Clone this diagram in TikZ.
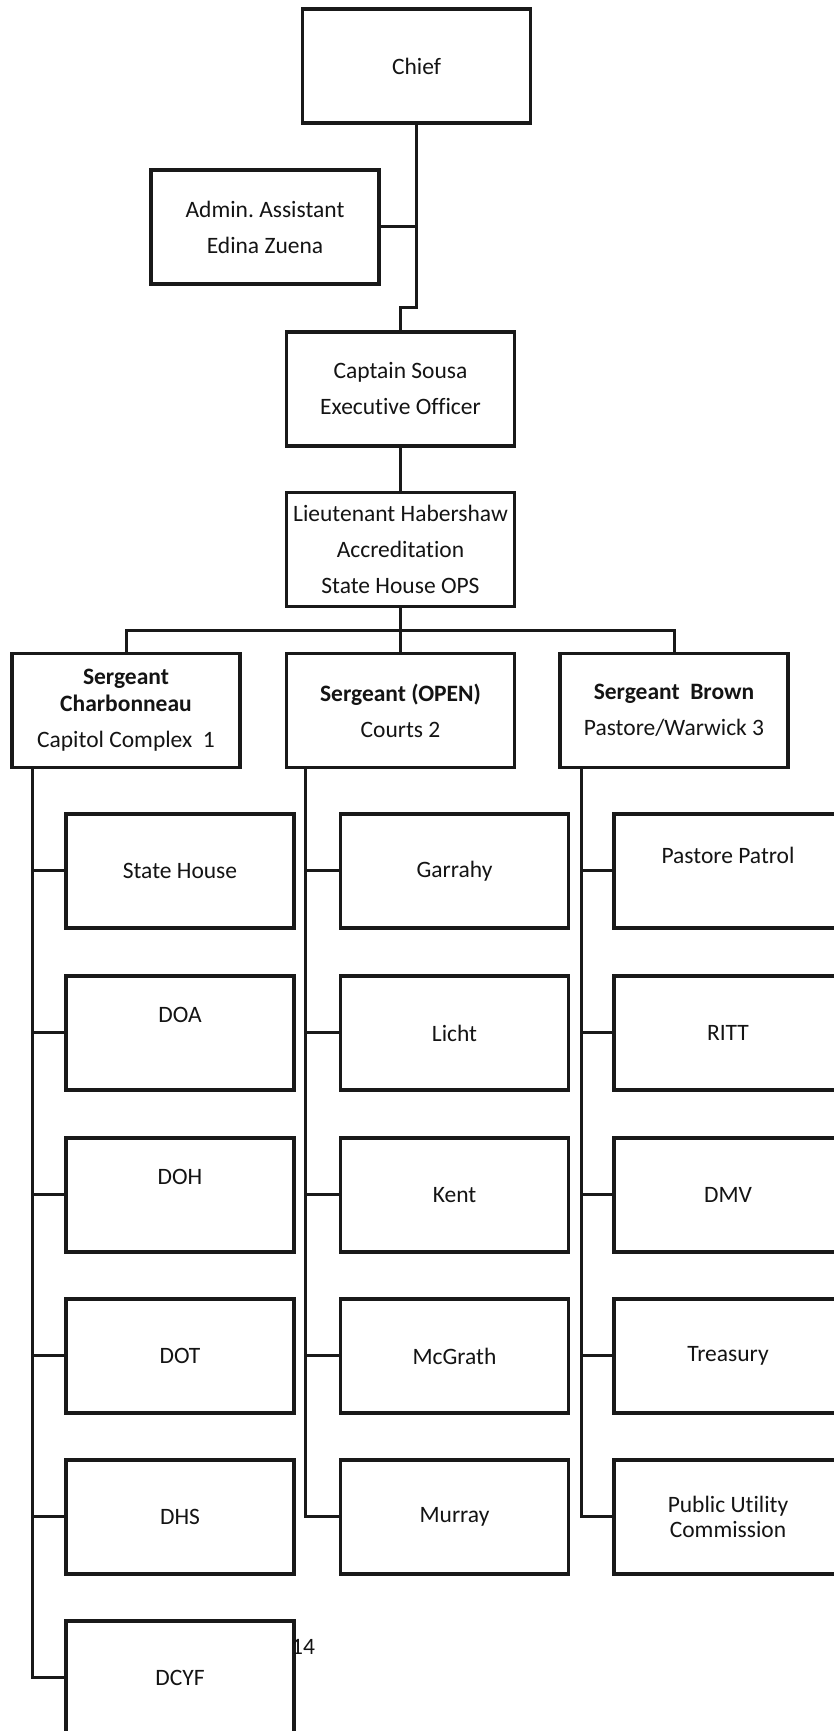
\documentclass[tikz,border=0pt]{standalone}
\usepackage{fontspec}
\setmainfont{Carlito}[Ligatures=NoCommon]
\frenchspacing
\begin{document}
\begin{tikzpicture}[x=1pt,y=1pt]
\definecolor{lineColor}{RGB}{25,25,25}
\definecolor{textColor}{RGB}{20,20,20}
\tikzset{
  unitbox/.style={draw=lineColor,line width=3.2pt,minimum width=228pt,minimum height=114pt,inner sep=0pt,align=center,text=textColor,font=\fontsize{23.5}{36}\selectfont},
  caption/.style={inner sep=0pt,text=textColor,font=\fontsize{23.5}{36}\selectfont},
  link/.style={draw=lineColor,line width=3pt}
}
\path[use as bounding box,fill=white] (0,0) rectangle (833,1731);

\node[unitbox] (chief) at (416.5,1665) {Chief};
\node[unitbox] (admin) at (265,1504) {Admin. Assistant\\Edina Zuena};
\node[unitbox] (captain) at (400.5,1342) {Captain Sousa\\Executive Officer};
\node[unitbox] (lieut) at (400.5,1181.5) {Lieutenant Habershaw\\Accreditation\\State House OPS};

\node[unitbox] (sgtone) at (126,1020.5) {\textbf{Sergeant}\\[-9pt]\textbf{Charbonneau}\\Capitol Complex~~1};
\node[unitbox] (sgttwo) at (400.5,1020.5) {\textbf{Sergeant (OPEN)}\\Courts 2};
\node[unitbox] (sgtthree) at (674,1020.5) {\textbf{Sergeant~~Brown}\\Pastore/Warwick 3};

\node[unitbox] (statehouse) at (180,860) {State House};
\node[unitbox] (doa) at (180,698) {};
\node[caption] (doa-t) at ([yshift=18pt]doa.center) {DOA};
\node[unitbox] (doh) at (180,536) {};
\node[caption] (doh-t) at ([yshift=18pt]doh.center) {DOH};
\node[unitbox] (dot) at (180,375) {DOT};
\node[unitbox] (dhs) at (180,214) {DHS};
\node[unitbox] (dcyf) at (180,53) {DCYF};

\node[unitbox] (garrahy) at (454.5,860) {Garrahy};
\node[unitbox] (licht) at (454.5,698) {Licht};
\node[unitbox] (kent) at (454.5,536) {Kent};
\node[unitbox] (mcgrath) at (454.5,375) {McGrath};
\node[unitbox] (murray) at (454.5,214) {Murray};

\node[unitbox] (patrol) at (728,860) {};
\node[caption] (patrol-t) at ([yshift=16pt]patrol.center) {Pastore Patrol};
\node[unitbox] (ritt) at (728,698) {RITT};
\node[unitbox] (dmv) at (728,536) {DMV};
\node[unitbox] (treasury) at (728,375) {Treasury};
\node[unitbox] (puc) at (728,214) {Public Utility\\[-11pt]Commission};

\node[caption] (pagenum) at (303,84) {14};

\coordinate (jog) at (416.5,1423);
\coordinate (bus) at (400.5,1100);
\coordinate (trunkone) at ([xshift=22pt]sgtone.south west);
\coordinate (trunktwo) at ([xshift=21pt]sgttwo.south west);
\coordinate (trunkthree) at ([xshift=23pt]sgtthree.south west);

\path[link] (chief.south) -- (jog) -| (captain.north);
\path[link] (admin.east) -- (admin.east -| chief.south);
\path[link] (captain.south) -- (lieut.north);
\path[link] (lieut.south) -- (bus);
\path[link] (sgtone.north) |- (bus) -| (sgtthree.north);
\path[link] (bus) -- (sgttwo.north);

\path[link] (trunkone) |- (dcyf.west);
\foreach \leaf in {statehouse,doa,doh,dot,dhs}
  \path[link] (\leaf.west) -- (\leaf.west -| trunkone);
\path[link] (trunktwo) |- (murray.west);
\foreach \leaf in {garrahy,licht,kent,mcgrath}
  \path[link] (\leaf.west) -- (\leaf.west -| trunktwo);
\path[link] (trunkthree) |- (puc.west);
\foreach \leaf in {patrol,ritt,dmv,treasury}
  \path[link] (\leaf.west) -- (\leaf.west -| trunkthree);
\end{tikzpicture}
\end{document}
